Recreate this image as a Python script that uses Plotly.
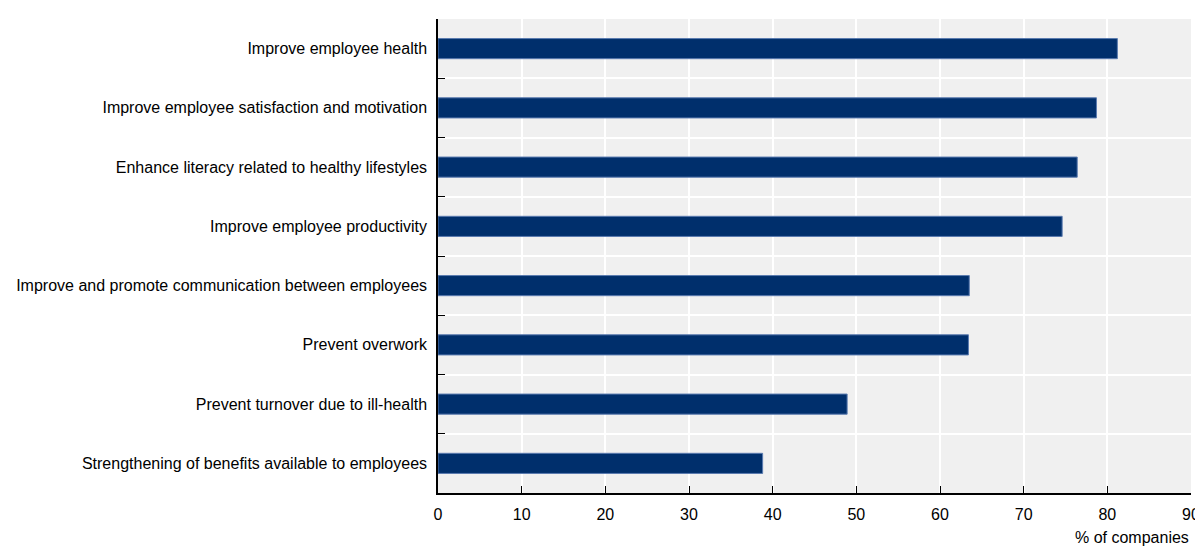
import plotly.graph_objects as go

categories = [
    "Improve employee health",
    "Improve employee satisfaction and motivation",
    "Enhance literacy related to healthy lifestyles",
    "Improve employee productivity",
    "Improve and promote communication between employees",
    "Prevent overwork",
    "Prevent turnover due to ill-health",
    "Strengthening of benefits available to employees",
]
values = [81.2, 78.7, 76.4, 74.6, 63.5, 63.4, 48.9, 38.8]
x_ticks = [0, 10, 20, 30, 40, 50, 60, 70, 80, 90]

FONT = "Liberation Sans, Arial, sans-serif"

fig = go.Figure(go.Bar(
    y=categories, x=values, orientation="h",
    marker=dict(color="#002f6c", line=dict(color="#5a7bb0", width=1)),
    width=0.34,
))

# page body has an 8px default margin, so the figure is sized to fit the window
fig.update_layout(
    width=1195, height=539,
    margin=dict(l=430, r=12, t=11, b=54, autoexpand=False),
    paper_bgcolor="white", plot_bgcolor="#f0f0f0",
    font=dict(family=FONT, size=16, color="black"),
    showlegend=False,
)
fig.update_yaxes(
    autorange="reversed", tickson="boundaries", ticks="inside", ticklen=7,
    tickcolor="black", showline=True, linecolor="black", linewidth=1.5,
    showgrid=True, gridcolor="white", gridwidth=2, ticklabelstandoff=6,
    automargin=False,
)
fig.update_xaxes(
    range=[0, 90], tickvals=x_ticks, ticks="inside", ticklen=7,
    tickcolor="black", showline=True, linecolor="black", linewidth=1.5,
    showgrid=True, gridcolor="white", gridwidth=2, zeroline=False,
    automargin=False, ticklabelstandoff=6,
)
fig.add_annotation(
    text="% of companies", xref="paper", yref="paper", x=1, y=0,
    xanchor="right", yanchor="top", yshift=-34, showarrow=False,
    font=dict(family=FONT, size=16, color="black"),
)
fig.write_html("out.html")
